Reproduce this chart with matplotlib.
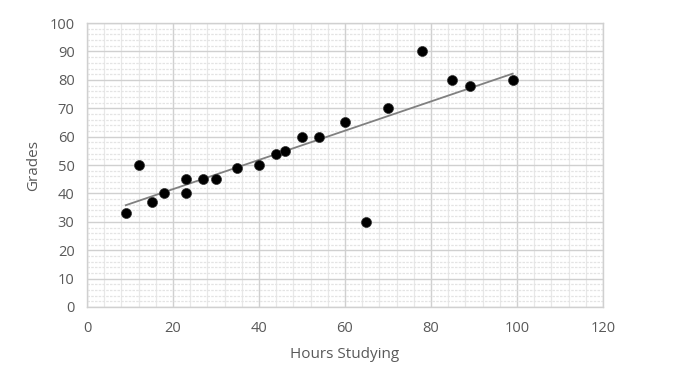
import numpy as np
import matplotlib
matplotlib.use("Agg")
import matplotlib.pyplot as plt
from matplotlib.ticker import MultipleLocator

hours = [9, 12, 15, 18, 23, 23, 27, 30, 35, 40, 44, 46, 50, 54, 60, 65, 70, 78, 85, 89, 99]
grades = [33, 50, 37, 40, 45, 40, 45, 45, 49, 50, 54, 55, 60, 60, 65, 30, 70, 90, 80, 78, 80]
x_ticks = [0, 20, 40, 60, 80, 100, 120]
y_ticks = [0, 10, 20, 30, 40, 50, 60, 70, 80, 90, 100]

plt.rcParams['font.family'] = ['Open Sans', 'DejaVu Sans']
fig = plt.figure(figsize=(6.76, 3.85), dpi=100)
ax = fig.add_axes([0.1287, 0.2026, 0.7633, 0.7374])

ax.set_xlim(0, 120)
ax.set_ylim(0, 100)
ax.set_xticks(x_ticks)
ax.set_yticks(y_ticks)
ax.xaxis.set_minor_locator(MultipleLocator(4))
ax.yaxis.set_minor_locator(MultipleLocator(2))
ax.grid(which='major', color='#d0d0d0', linewidth=1.0)
ax.grid(which='minor', axis='x', color='#e8e8e8', linewidth=0.9)
ax.grid(which='minor', axis='y', color='#e4e4e4', linewidth=0.9, linestyle=(0, (2, 1)))
ax.set_axisbelow(True)
for s in ax.spines.values():
    s.set_color('#d0d0d0')
    s.set_linewidth(1.0)
ax.tick_params(which='both', length=0, colors='#595959', labelsize=10.5)
ax.tick_params(axis='y', pad=9)
ax.tick_params(axis='x', pad=10)

ax.scatter(hours, grades, s=52, color='black', edgecolors='#333333', linewidths=0.5, zorder=3)

coef = np.polyfit(hours, grades, 1)
xs = np.array([min(hours), max(hours)])
ax.plot(xs, np.polyval(coef, xs), color='#808080', linewidth=1.3, zorder=2)

ax.set_xlabel('Hours Studying', color='#595959', fontsize=11, labelpad=8)
ax.set_ylabel('Grades', color='#595959', fontsize=11, labelpad=6)

fig.savefig('out.png', dpi=100)
